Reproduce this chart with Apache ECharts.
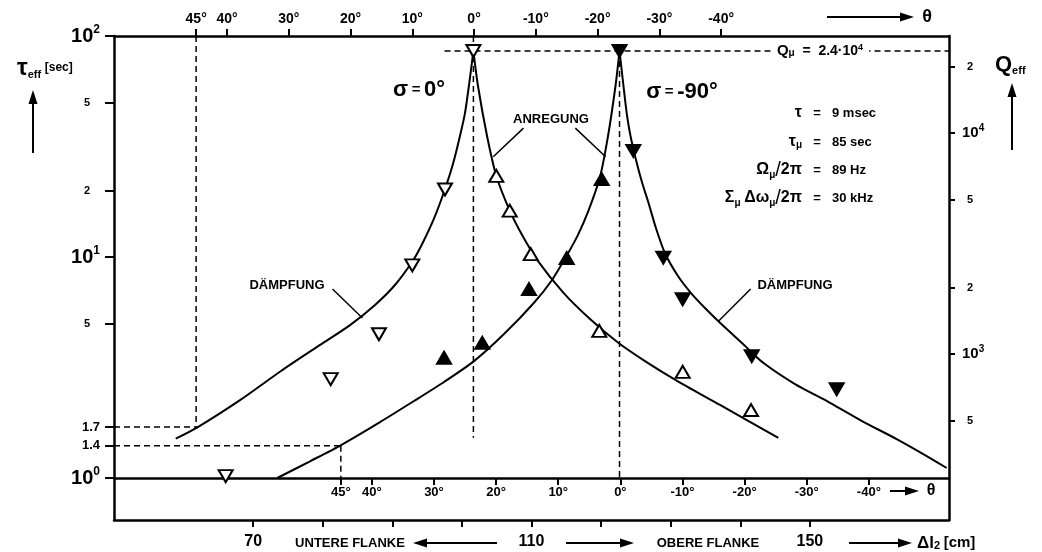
<!DOCTYPE html>
<html><head><meta charset="utf-8">
<script src="https://cdn.jsdelivr.net/npm/echarts@6/dist/echarts.min.js"></script>
<style>html,body{margin:0;padding:0;background:#fff}#c{width:1042px;height:552px}</style>
</head><body><div id="c"></div>
<script>
// ---------- data (Δl2 [cm], τ_eff [sec]) ----------
const pointsDampSigma0  = [[101.65,85.5],[97.57,20.2],[92.87,9.17],[88.08,4.47],[81.14,2.8],[66.05,1.02]];
const pointsAnrSigma0   = [[104.94,23.3],[106.87,16.2],[109.89,10.3],[119.74,4.63],[131.73,3.02],[141.55,2.03]];
const pointsAnrSigma90  = [[120.09,22.5],[115.06,9.9],[109.64,7.16],[102.93,4.09],[97.43,3.5]];
const pointsDampSigma90 = [[122.65,85.5],[124.63,30.2],[128.94,9.93],[131.73,6.44],[141.65,3.56],[153.86,2.52]];

const curveDampSigma0  = [[101.65,85.5],[101.02,60.0],[100.44,44.8],[99.72,35.3],[98.72,26.4],[97.57,20.3],[96.13,15.3],[94.55,11.9],[93.11,9.79],[90.38,7.47],[87.51,6.07],[83.92,4.92],[79.61,4.0],[74.0,3.05],[68.11,2.25],[61.93,1.69],[58.87,1.506]];
const curveAnrSigma0   = [[101.65,85.5],[102.31,59.4],[103.61,35.3],[104.94,23.3],[106.87,16.2],[108.63,12.6],[110.75,9.76],[114.57,6.9],[118.41,5.24],[122.47,4.09],[126.31,3.38],[131.34,2.7],[137.09,2.14],[145.47,1.52]];
const curveAnrSigma90  = [[122.65,85.5],[122.07,59.4],[121.0,35.3],[119.84,23.0],[118.19,16.2],[116.68,12.6],[115.25,10.4],[112.95,7.87],[110.36,6.21],[106.05,4.48],[101.74,3.38],[97.43,2.72],[93.11,2.23],[88.23,1.79],[82.58,1.406],[78.17,1.19],[73.47,1.0]];
const curveDampSigma90 = [[122.65,85.5],[123.22,59.4],[123.72,43.9],[124.23,35.3],[125.02,27.5],[125.88,21.8],[126.81,17.6],[127.89,13.5],[129.19,10.4],[131.05,8.2],[132.92,6.87],[134.93,5.88],[137.09,5.04],[140.25,4.08],[143.31,3.32],[147.87,2.66],[152.9,2.19],[157.5,1.81],[162.48,1.5],[166.55,1.27],[169.67,1.11]];

// reference (dashed) lines
const qMuLine      = [[97.5,85.5],[170,85.5]];
const vLine45Top   = [[61.8,100],[61.8,1.7]];
const hLine17      = [[50,1.7],[61.8,1.7]];
const vLine45Bot   = [[82.6,1.4],[82.6,1]];
const hLine14      = [[50,1.4],[82.6,1.4]];
const vLinePeak0   = [[101.65,100],[101.65,1.52]];
const vLinePeak90  = [[122.65,85.5],[122.65,1]];

// leader lines of the annotations
const leaderAnr0   = [[108.85,38.3],[104.5,28.4]];
const leaderAnr90  = [[116.3,38.3],[120.65,28.4]];
const leaderDamp0  = [[81.4,7.16],[85.7,5.3]];
const leaderDamp90 = [[141.5,7.16],[136.9,5.13]];

// ---------- ticks and labels ----------
const dlTickValues   = [70,80,90,100,110,120,130,140,150];
const dlLabelValues  = [70,110,150];
const thetaTicks     = [45,40,30,20,10,0,-10,-20,-30,-40];
const tauTicks       = [1,1.4,1.7,5,10,20,50,100];
const tauTickLabels  = ['10^0','1.4','1.7','5','10^1','2','5','10^2'];
const qTicks         = [500,1000,2000,5000,10000,20000];
const qTickLabels    = ['5','10^3','2','5','10^4','2'];

const FF = 'Liberation Sans, Arial, sans-serif';
const BLK = '#000';

function lookup(vals, labels, v){
  let best = 0, bd = Infinity;
  vals.forEach((t,i)=>{ const d = Math.abs(Math.log(t) - Math.log(v)); if(d<bd){bd=d;best=i;} });
  const s = labels[best];
  if (s.indexOf('^')>=0){ const p=s.split('^'); return '{n|'+p[0]+'}{s|'+p[1]+'}'; }
  if (s.indexOf('.')>=0) return '{d|'+s+'}';
  return '{m|'+s+'}';
}

const chart = echarts.init(document.getElementById('c'), null, {renderer:'canvas'});

const frameLine = {show:true, onZero:false, lineStyle:{color:BLK, width:2.5}};
const tickStyle = {color:BLK, width:2};

function lineSeries(data, opts){
  return Object.assign({type:'line', xAxisIndex:2, yAxisIndex:2, data:data, symbol:'none', showSymbol:false,
    silent:true, lineStyle:{color:BLK, width:2}, z:3}, opts||{});
}
function dashSeries(data){ return lineSeries(data, {lineStyle:{color:BLK, width:1.5, type:[6,4]}, z:2}); }
function markerSeries(data, filled, down){
  return {type:'scatter', xAxisIndex:2, yAxisIndex:2, data:data, symbol:'triangle', symbolRotate: down?180:0,
    symbolSize:[14,12], silent:true, z:6,
    itemStyle:{color: filled?BLK:'#fff', borderColor:BLK, borderWidth:2, opacity:1}};
}

function txt(x,y,text,style){
  return {type:'text', x:x, y:y, silent:true, z:100, style:Object.assign({text:text, fill:BLK, fontFamily:FF, fontWeight:'bold', fontSize:13, align:'center', verticalAlign:'middle'}, style||{})};
}
function hArrow(x1,x2,y){
  const dir = x2>x1?1:-1;
  return [
    {type:'line', silent:true, shape:{x1:x1,y1:y,x2:x2-dir*10,y2:y}, style:{stroke:BLK, lineWidth:2}},
    {type:'polygon', silent:true, shape:{points:[[x2,y],[x2-dir*14,y-4.5],[x2-dir*14,y+4.5]]}, style:{fill:BLK}}
  ];
}
function vArrow(x,y1,y2){
  return [
    {type:'line', silent:true, shape:{x1:x,y1:y1,x2:x,y2:y2+10}, style:{stroke:BLK, lineWidth:2}},
    {type:'polygon', silent:true, shape:{points:[[x,y2],[x-4.5,y2+14],[x+4.5,y2+14]]}, style:{fill:BLK}}
  ];
}

const richMath = {
  g:{fontSize:16, fontWeight:'bold', fontFamily:FF},
  sb:{fontSize:10, fontWeight:'bold', fontFamily:FF, verticalAlign:'bottom', lineHeight:10},
  sl:{fontSize:20, fontFamily:FF}
};

const option = {
  animation:false,
  backgroundColor:'#fff',
  grid:[
    {left:114, right:93, top:36, bottom:32, containLabel:false, outerBoundsMode:'none'},
    {left:114, right:93, top:36, bottom:74, containLabel:false, outerBoundsMode:'none'}
  ],
  xAxis:[
    {gridIndex:0, type:'value', min:50, max:170, position:'bottom', axisLine:frameLine,
     axisTick:{show:true, customValues:dlTickValues, length:7, lineStyle:tickStyle},
     axisLabel:{show:true, customValues:dlLabelValues, margin:14, color:BLK, fontSize:16, fontWeight:'bold', fontFamily:FF},
     splitLine:{show:false}, minorTick:{show:false}},
    {gridIndex:0, type:'value', min:-76.9, max:58.3, inverse:true, position:'top', axisLine:frameLine,
     axisTick:{show:true, customValues:thetaTicks, length:7, lineStyle:tickStyle},
     axisLabel:{show:true, customValues:thetaTicks, formatter:v=>v+'°', margin:10, color:BLK, fontSize:14, fontWeight:'bold', fontFamily:FF},
     splitLine:{show:false}},
    {gridIndex:1, type:'value', min:50, max:170, show:false},
    {gridIndex:1, type:'value', min:-52.9, max:81.5, inverse:true, position:'bottom', axisLine:frameLine,
     axisTick:{show:true, customValues:thetaTicks, length:7, lineStyle:tickStyle},
     axisLabel:{show:true, customValues:thetaTicks, formatter:v=>v+'°', margin:8, color:BLK, fontSize:13, fontWeight:'bold', fontFamily:FF},
     splitLine:{show:false}}
  ],
  yAxis:[
    {gridIndex:0, type:'value', min:0, max:1, position:'left', axisLine:frameLine, axisTick:{show:false}, axisLabel:{show:false}, splitLine:{show:false}},
    {gridIndex:0, type:'value', min:0, max:1, position:'right', axisLine:frameLine, axisTick:{show:false}, axisLabel:{show:false}, splitLine:{show:false}},
    {gridIndex:1, type:'log', logBase:10, min:1, max:100, position:'left', axisLine:{show:false, onZero:false},
     axisTick:{show:true, customValues:tauTicks, length:9, lineStyle:tickStyle},
     axisLabel:{show:true, customValues:tauTicks, margin:14, color:BLK, fontFamily:FF, fontWeight:'bold',
       formatter:v=>lookup(tauTicks,tauTickLabels,v),
       rich:{
         n:{fontSize:20, fontWeight:'bold', fontFamily:FF, lineHeight:24},
         s:{fontSize:12, fontWeight:'bold', fontFamily:FF, verticalAlign:'top', lineHeight:12},
         m:{fontSize:11, fontWeight:'bold', fontFamily:FF, padding:[0,10,0,0]},
         d:{fontSize:13, fontWeight:'bold', fontFamily:FF}
       }},
     splitLine:{show:false}, minorTick:{show:false}},
    {gridIndex:1, type:'log', logBase:10, min:275, max:27500, position:'right', axisLine:{show:false, onZero:false},
     axisTick:{show:true, customValues:qTicks, length:6, lineStyle:tickStyle},
     axisLabel:{show:true, customValues:qTicks, margin:13, color:BLK, fontFamily:FF, fontWeight:'bold',
       formatter:v=>lookup(qTicks,qTickLabels,v),
       rich:{
         n:{fontSize:15, fontWeight:'bold', fontFamily:FF, lineHeight:20},
         s:{fontSize:10, fontWeight:'bold', fontFamily:FF, verticalAlign:'top', lineHeight:10},
         m:{fontSize:11, fontWeight:'bold', fontFamily:FF, padding:[0,0,0,5]},
         d:{fontSize:12, fontWeight:'bold', fontFamily:FF}
       }},
     splitLine:{show:false}, minorTick:{show:false}}
  ],
  series:[
    dashSeries(qMuLine), dashSeries(vLine45Top), dashSeries(hLine17), dashSeries(vLine45Bot),
    dashSeries(hLine14), dashSeries(vLinePeak0), dashSeries(vLinePeak90),
    lineSeries(curveDampSigma0, {smooth:0.25}), lineSeries(curveAnrSigma0, {smooth:0.25}),
    lineSeries(curveAnrSigma90, {smooth:0.25}), lineSeries(curveDampSigma90, {smooth:0.25}),
    lineSeries(leaderAnr0, {lineStyle:{color:BLK,width:1.5}}), lineSeries(leaderAnr90, {lineStyle:{color:BLK,width:1.5}}),
    lineSeries(leaderDamp0, {lineStyle:{color:BLK,width:1.5}}), lineSeries(leaderDamp90, {lineStyle:{color:BLK,width:1.5}}),
    markerSeries(pointsDampSigma0, false, true),
    markerSeries(pointsAnrSigma0, false, false),
    markerSeries(pointsAnrSigma90, true, false),
    markerSeries(pointsDampSigma90, true, true)
  ],
  graphic:[].concat(
    [txt(17,68,'{t|τ}{s|eff} {u|[sec]}', {align:'left', rich:{
        t:{fontSize:24, fontWeight:'bold', fontFamily:FF},
        s:{fontSize:11, fontWeight:'bold', fontFamily:FF, verticalAlign:'bottom', lineHeight:12},
        u:{fontSize:12, fontWeight:'bold', fontFamily:FF}}})],
    vArrow(33,153,90),
    [txt(995,65,'{q|Q}{s|eff}', {align:'left', rich:{
        q:{fontSize:22, fontWeight:'bold', fontFamily:FF},
        s:{fontSize:11, fontWeight:'bold', fontFamily:FF, verticalAlign:'bottom', lineHeight:12}}})],
    vArrow(1012,150,83),
    hArrow(827,914,17), [txt(927,17,'θ',{fontSize:18})],
    hArrow(890,919,491), [txt(931,491,'θ',{fontSize:16})],
    [txt(350,543,'UNTERE FLANKE')], hArrow(497,413,543),
    hArrow(566,634,543), [txt(708,543,'OBERE FLANKE')],
    hArrow(849,912,543),
    [txt(917,543,'{a|Δl}{s|2} {b|[cm]}', {align:'left', rich:{
        a:{fontSize:17, fontWeight:'bold', fontFamily:FF},
        s:{fontSize:11, fontWeight:'bold', fontFamily:FF, verticalAlign:'bottom', lineHeight:12},
        b:{fontSize:15, fontWeight:'bold', fontFamily:FF}}})],
    [txt(419,90,'{a|σ} {e|=} {b|0°}', {rich:{
        a:{fontSize:22, fontWeight:'bold', fontFamily:FF},
        e:{fontSize:15, fontWeight:'bold', fontFamily:FF},
        b:{fontSize:22, fontWeight:'bold', fontFamily:FF}}})],
    [txt(682,92,'{a|σ} {e|=} {b|-90°}', {rich:{
        a:{fontSize:22, fontWeight:'bold', fontFamily:FF},
        e:{fontSize:15, fontWeight:'bold', fontFamily:FF},
        b:{fontSize:22, fontWeight:'bold', fontFamily:FF}}})],
    [txt(551,119,'ANREGUNG'), txt(287,285,'DÄMPFUNG'), txt(795,285,'DÄMPFUNG')],
    [txt(820,51,'{q|Q}{sb|μ}{t|  =  2.4·10}{sp|4}', {backgroundColor:'#fff', padding:[2,6], rich:{
        q:{fontSize:15, fontWeight:'bold', fontFamily:FF},
        sb:{fontSize:10, fontWeight:'bold', fontFamily:FF, verticalAlign:'bottom', lineHeight:10},
        t:{fontSize:14, fontWeight:'bold', fontFamily:FF},
        sp:{fontSize:9, fontWeight:'bold', fontFamily:FF, verticalAlign:'top', lineHeight:9}}})],
    [
      txt(802,113,'{g|τ}', {align:'right', rich:richMath}),
      txt(802,142,'{g|τ}{sb|μ}', {align:'right', rich:richMath}),
      txt(802,170,'{g|Ω}{sb|μ}{sl|/}{g|2π}', {align:'right', rich:richMath}),
      txt(802,198,'{g|Σ}{sb|μ} {g|Δω}{sb|μ}{sl|/}{g|2π}', {align:'right', rich:richMath}),
      txt(817,113,'='), txt(817,142,'='), txt(817,170,'='), txt(817,198,'='),
      txt(832,113,'9 msec',{align:'left'}), txt(832,142,'85 sec',{align:'left'}),
      txt(832,170,'89 Hz',{align:'left'}), txt(832,198,'30 kHz',{align:'left'})
    ]
  )
};
chart.setOption(option);
</script>
</body></html>
